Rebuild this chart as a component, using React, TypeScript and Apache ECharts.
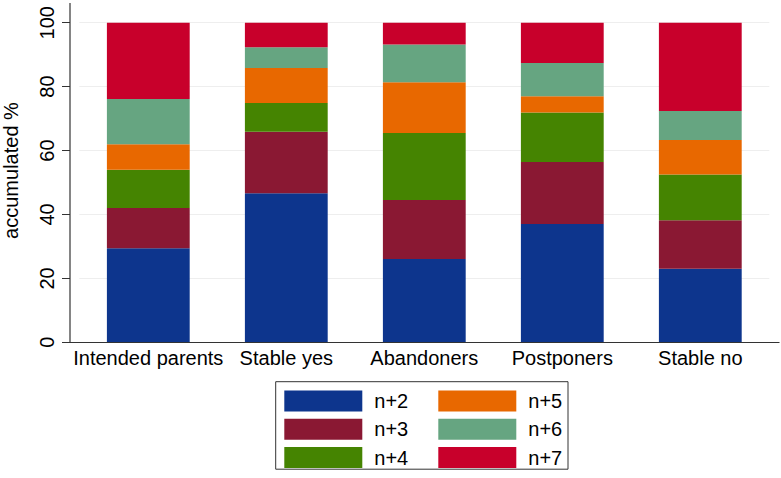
import React, { useEffect, useRef } from "react";
import * as echarts from "echarts";

const categories = ["Intended parents", "Stable yes", "Abandoners", "Postponers", "Stable no"];
const seriesNames = ["n+2", "n+3", "n+4", "n+5", "n+6", "n+7"];
const n2 = [29.4, 46.6, 26.1, 37.0, 23.0];
const n3 = [12.6, 19.3, 18.4, 19.4, 15.2];
const n4 = [12.0, 9.0, 21.0, 15.5, 14.3];
const n5 = [8.0, 10.9, 15.9, 5.1, 10.8];
const n6 = [14.1, 6.5, 11.8, 10.4, 9.1];
const n7 = [23.9, 7.7, 6.8, 12.6, 27.6];
const yTicks = [0, 20, 40, 60, 80, 100];
const colors = ["#0d358d", "#8a1833", "#458401", "#e86800", "#66a581", "#c8002b"];

const FONT = "'Liberation Sans', Arial, Helvetica, sans-serif";

export default function App() {
  const ref = useRef<HTMLDivElement>(null);
  useEffect(() => {
    if (!ref.current) return;
    const chart = echarts.init(ref.current, undefined, { renderer: "svg" });
    const values = [n2, n3, n4, n5, n6, n7];
    const legendCommon = {
      orient: "vertical" as const,
      top: 390.5,
      padding: 0,
      itemWidth: 78,
      itemHeight: 21,
      itemGap: 7.3,
      icon: "rect",
      selectedMode: false,
      textStyle: { fontFamily: FONT, fontSize: 20, color: "#000", padding: [0, 0, 0, 7] },
    };
    chart.setOption({
      animation: false,
      backgroundColor: "#fff",
      textStyle: { fontFamily: FONT },
      grid: {
        left: 79.3,
        right: 11.7,
        top: 22.7,
        bottom: 478 - 342.3,
        containLabel: false,
        outerBoundsMode: "none",
      },
      legend: [
        { ...legendCommon, left: 284.3, data: seriesNames.slice(0, 3) },
        { ...legendCommon, left: 438.3, data: seriesNames.slice(3) },
      ],
      xAxis: {
        type: "category",
        data: categories,
        axisLine: { show: false },
        axisTick: { show: false },
        axisLabel: { color: "#000", fontSize: 20, fontFamily: FONT, margin: 6, interval: 0 },
      },
      yAxis: {
        type: "value",
        min: yTicks[0],
        max: yTicks[yTicks.length - 1],
        interval: 20,
        offset: 9.3,
        name: "accumulated %",
        nameLocation: "middle",
        nameRotate: 90,
        nameGap: 49,
        nameTextStyle: { color: "#000", fontSize: 20, fontFamily: FONT, padding: [0, 0, 0, 24] },
        axisLine: { show: false },
        axisTick: { show: true, length: 8, lineStyle: { color: "#333" } },
        axisLabel: { color: "#000", fontSize: 20, fontFamily: FONT, rotate: 90, margin: 13 },
        splitLine: { show: true, lineStyle: { color: "#eeeeee", width: 1 } },
      },
      series: seriesNames.map((name, i) => ({
        name,
        type: "bar",
        stack: "total",
        barWidth: "60%",
        data: values[i],
        itemStyle: { color: colors[i] },
      })),
      graphic: [
        {
          type: "line",
          shape: { x1: 70, y1: 3, x2: 70, y2: 342.5 },
          style: { stroke: "#333", lineWidth: 1.2 },
          z: 10,
        },
        {
          type: "line",
          shape: { x1: 70, y1: 342.5, x2: 779.5, y2: 342.5 },
          style: { stroke: "#333", lineWidth: 1.2 },
          z: 10,
        },
        {
          type: "rect",
          shape: { x: 275.7, y: 381.7, width: 292.3, height: 87.5 },
          style: { fill: "none", stroke: "#333", lineWidth: 1 },
          z: 10,
        },
      ],
    });
    return () => chart.dispose();
  }, []);
  return <div ref={ref} style={{ width: 781, height: 478, position: "absolute", left: 0, top: 0 }} />;
}
